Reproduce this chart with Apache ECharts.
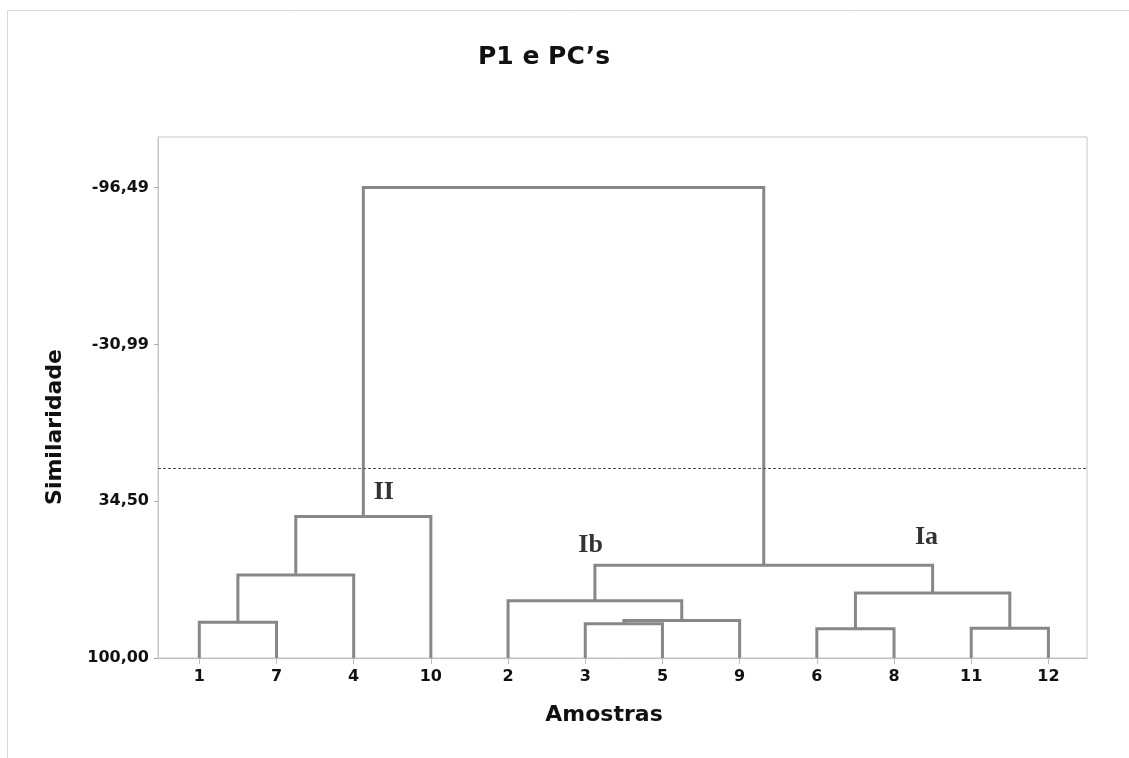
<!DOCTYPE html>
<html>
<head>
<meta charset="utf-8">
<script src="https://cdn.jsdelivr.net/npm/echarts@6/dist/echarts.min.js"></script>
<style>
  html, body { margin: 0; padding: 0; background: #fff; }
  #chart { width: 1129px; height: 758px; }
</style>
</head>
<body>
<div id="chart"></div>
<script>
// Leaf order along the x axis
const leaves = ['1', '7', '4', '10', '2', '3', '5', '9', '6', '8', '11', '12'];
// Merges: node ids 0..11 are leaves, merge k creates node 12+k
const mergeLeft   = [0, 12, 13, 5, 15, 4, 8, 10, 18, 17, 14];
const mergeRight  = [1, 2, 3, 6, 7, 16, 9, 11, 19, 20, 21];
const mergeHeight = [85.1, 65.3, 40.9, 85.7, 84.3, 76.1, 87.8, 87.6, 72.9, 61.3, -96.49];
const leafHeight = 100;
// Axis ticks
const yTickValues = [-96.49, -30.99, 34.50, 100.00];
const cutLevel = 20.85;
// Cluster annotations
const clusterNames = ['II', 'Ib', 'Ia'];
const clusterX = [3.39, 6.07, 10.42];
const clusterY = [30.9, 53.1, 49.4];

// Build node positions
const nodeX = leaves.map((_, i) => i + 1);
const nodeH = leaves.map(() => leafHeight);
const segData = [];
for (let k = 0; k < mergeLeft.length; k++) {
  const l = mergeLeft[k], r = mergeRight[k];
  segData.push([nodeX[l], nodeH[l], nodeX[r], nodeH[r], mergeHeight[k]]);
  nodeX.push((nodeX[l] + nodeX[r]) / 2);
  nodeH.push(mergeHeight[k]);
}

const chart = echarts.init(document.getElementById('chart'));
const sans = 'DejaVu Sans';
chart.setOption({
  animation: false,
  backgroundColor: '#fff',
  graphic: [
    { type: 'rect', silent: true, shape: { x: 7.5, y: 10.5, width: 1300, height: 900 },
      style: { fill: 'none', stroke: '#d9d9d9', lineWidth: 1 } },
    { type: 'text', x: 544, y: 57, silent: true,
      style: { text: 'P1 e PC\u2019s', fontFamily: sans, fontWeight: 'bold', fontSize: 25,
               fill: '#111', align: 'center', verticalAlign: 'middle' } },
    { type: 'text', x: 604, y: 715, silent: true,
      style: { text: 'Amostras', fontFamily: sans, fontWeight: 'bold', fontSize: 22,
               fill: '#111', align: 'center', verticalAlign: 'middle' } },
    { type: 'text', x: 55, y: 427, rotation: Math.PI / 2, silent: true,
      style: { text: 'Similaridade', fontFamily: sans, fontWeight: 'bold', fontSize: 22,
               fill: '#111', align: 'center', verticalAlign: 'middle' } }
  ],
  grid: { left: 158, top: 137, right: 42, bottom: 100, show: true,
          borderColor: '#c8c8c8', borderWidth: 1, backgroundColor: 'transparent' },
  xAxis: {
    type: 'value', min: 0.465, max: 12.5,
    splitLine: { show: false },
    axisLine: { show: true, onZero: false, lineStyle: { color: '#b5b5b5', type: 'dotted', width: 1 } },
    axisTick: { show: true, customValues: leaves.map((_, i) => i + 1), length: 6,
                lineStyle: { color: '#bbb' } },
    axisLabel: { customValues: leaves.map((_, i) => i + 1), margin: 11,
                 formatter: v => leaves[Math.round(v) - 1] || '',
                 fontFamily: sans, fontWeight: 'bold', fontSize: 16, color: '#111' }
  },
  yAxis: {
    type: 'value', inverse: true, min: -117.6, max: 100,
    splitLine: { show: false },
    axisLine: { show: true, onZero: false, lineStyle: { color: '#c8c8c8', width: 1 } },
    axisTick: { show: true, customValues: yTickValues, length: 4, lineStyle: { color: '#aaa' } },
    axisLabel: { customValues: yTickValues, margin: 9,
                 formatter: v => v.toFixed(2).replace('.', ','),
                 fontFamily: sans, fontWeight: 'bold', fontSize: 16, color: '#111' }
  },
  series: [
    {
      type: 'custom',
      data: segData,
      renderItem: function (params, api) {
        const xl = api.value(0), hl = api.value(1), xr = api.value(2), hr = api.value(3), hm = api.value(4);
        const pts = [api.coord([xl, hl]), api.coord([xl, hm]), api.coord([xr, hm]), api.coord([xr, hr])];
        return { type: 'polyline', shape: { points: pts },
                 style: { stroke: '#878787', lineWidth: 3, fill: 'none', lineJoin: 'miter' } };
      },
      markLine: {
        silent: true, symbol: 'none', label: { show: false },
        lineStyle: { color: '#555', type: [3, 2], width: 1 },
        data: [{ yAxis: cutLevel }]
      },
      z: 3
    },
    {
      type: 'scatter',
      symbolSize: 0,
      data: clusterNames.map((n, i) => ({ value: [clusterX[i], clusterY[i]], name: n })),
      label: { show: true, position: 'inside', formatter: p => p.name,
               fontFamily: 'Liberation Serif', fontWeight: 'bold', fontSize: 26, color: '#000',
               textBorderWidth: 0 },
      z: 4
    }
  ]
});
</script>
</body>
</html>
